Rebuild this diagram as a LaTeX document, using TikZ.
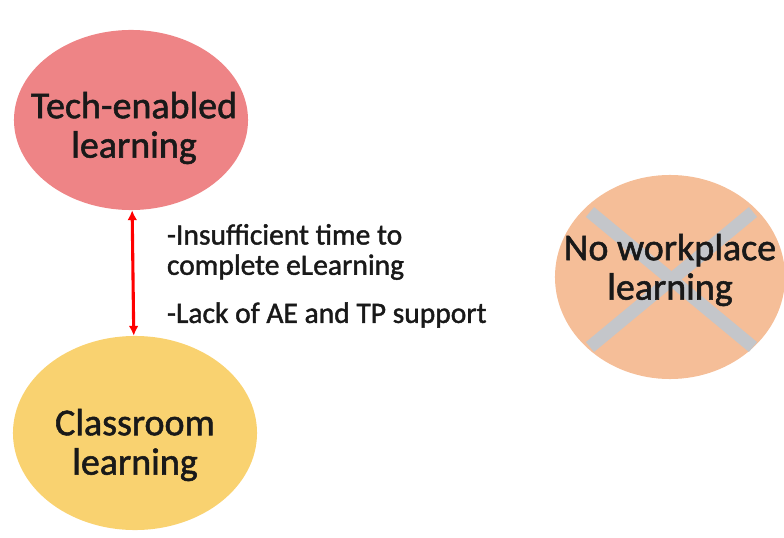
\documentclass[tikz,border=0pt]{standalone}
\usepackage{fontspec}
\setmainfont{Carlito}[FakeBold=1.4]
\usetikzlibrary{shapes.geometric,arrows.meta}
\definecolor{techred}{RGB}{238,132,134}
\definecolor{classyellow}{RGB}{249,210,112}
\definecolor{workorange}{RGB}{245,190,152}
\definecolor{crossgray}{RGB}{196,198,202}
\definecolor{inktext}{RGB}{25,25,25}

\begin{document}
\begin{tikzpicture}[x=0.025cm,y=-0.025cm,
    blob/.style={ellipse, inner sep=0pt},
    blobtext/.style={text=inktext, align=center,
      font=\fontsize{27}{28}\selectfont},
    note/.style={anchor=west, text=inktext, align=left,
      font=\fontsize{21}{21.5}\selectfont}]
    \useasboundingbox (0,0) rectangle (784,538);
    \node [blob, fill=techred, minimum width=5.85cm, minimum height=4.5cm] (tech) at (131,120) {};
    \node [blob, fill=classyellow, minimum width=6.1cm, minimum height=4.85cm] (class) at (135,433) {};
    \node [blob, fill=workorange, minimum width=5.75cm, minimum height=5.1cm] (work) at (670,277) {};
    \coordinate (xa) at (590,212);
    \coordinate (xb) at (753,347);
    \coordinate (xc) at (753,212);
    \coordinate (xd) at (590,347);
    \draw [crossgray, line width=0.32cm] (xa) -- (xb);
    \draw [crossgray, line width=0.32cm] (xc) -- (xd);
    \node [blobtext] (techtext) at (134,128) {Tech-enabled\\learning};
    \node [blobtext] (classtext) at (135,445) {Classroom\\learning};
    \node [blobtext] (worktext) at (670,270) {No workplace\\learning};
    \draw [red, line width=2.2pt, {Latex[length=7pt,width=7pt]}-{Latex[length=7pt,width=7pt]}] (tech) -- (class);
    \node [note] (time) at (162,252) {-Insufficient time to\\complete eLearning};
    \node [note] (lack) at (162,315) {-Lack of AE and TP support};
\end{tikzpicture}
\end{document}
